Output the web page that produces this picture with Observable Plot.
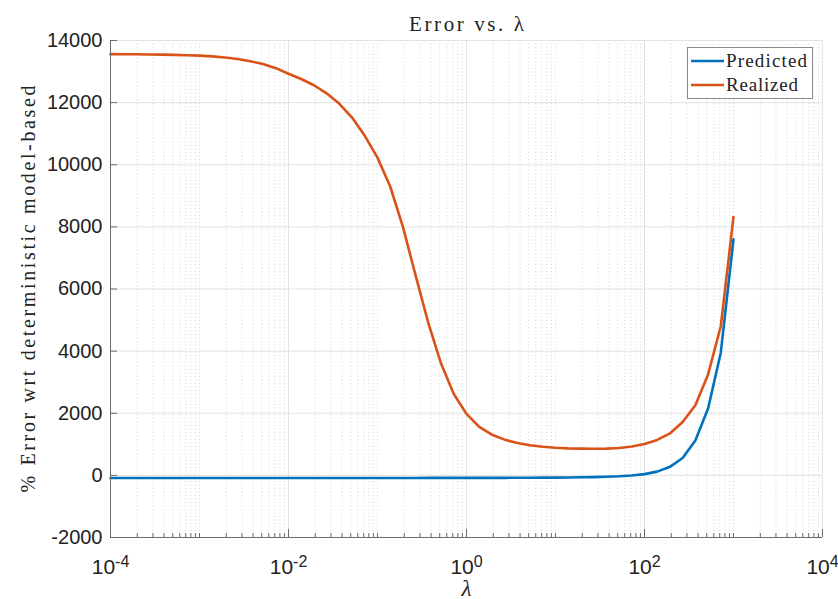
<!DOCTYPE html>
<html>
<head>
<meta charset="utf-8">
<script src="https://cdn.jsdelivr.net/npm/d3@7"></script>
<script src="https://cdn.jsdelivr.net/npm/@observablehq/plot@0.6"></script>
<style>
  html, body { margin: 0; padding: 0; background: #fff; }
  #wrap { position: relative; width: 838px; height: 599px; overflow: hidden; }
  #legend { position: absolute; left: 687px; top: 47px; }
</style>
</head>
<body>
<div id="wrap"></div>
<script>
// ---- data ----
const lambda = [
  1.000e-4, 1.389e-4, 1.931e-4, 2.683e-4, 3.728e-4, 5.179e-4, 7.197e-4,
  1.000e-3, 1.389e-3, 1.931e-3, 2.683e-3, 3.728e-3, 5.179e-3, 7.197e-3,
  1.000e-2, 1.389e-2, 1.931e-2, 2.683e-2, 3.728e-2, 5.179e-2, 7.197e-2,
  1.000e-1, 1.389e-1, 1.931e-1, 2.683e-1, 3.728e-1, 5.179e-1, 7.197e-1,
  1.000, 1.389, 1.931, 2.683, 3.728, 5.179, 7.197,
  10.00, 13.89, 19.31, 26.83, 37.28, 51.79, 71.97,
  100.0, 138.9, 193.1, 268.3, 372.8, 517.9, 719.7,
  1000.0
];
const realized = [
  13560, 13558, 13555, 13550, 13545, 13537, 13527,
  13512, 13490, 13455, 13405, 13335, 13240, 13110,
  12930, 12760, 12560, 12300, 11960, 11520, 10930,
  10230, 9300, 8000, 6430, 4900, 3600, 2620,
  1980, 1560, 1310, 1150, 1040, 970, 920,
  890, 870, 860, 855, 860, 880, 930,
  1010, 1140, 1350, 1720, 2260, 3250, 4800,
  8320
];
const predicted = [
  -85, -85, -85, -85, -85, -85, -85,
  -85, -85, -85, -85, -85, -85, -85,
  -85, -85, -85, -85, -85, -85, -85,
  -84, -84, -83, -83, -82, -82, -81,
  -81, -80, -80, -79, -78, -76, -74,
  -72, -68, -62, -55, -45, -30, -5,
  40, 120, 275, 560, 1120, 2150, 3950,
  7600
];
const seriesNames = ["Predicted", "Realized"];
const seriesColors = ["#0072BD", "#D95319"];
const xMajorTicks = [1e-4, 1e-2, 1e0, 1e2, 1e4];
const xTickLabels = ["10^-4", "10^-2", "10^0", "10^2", "10^4"];
const yTicks = [-2000, 0, 2000, 4000, 6000, 8000, 10000, 12000, 14000];
const yTickLabels = ["-2000", "0", "2000", "4000", "6000", "8000", "10000", "12000", "14000"];
const titleText = "Error vs. λ";
const xLabelText = "λ";
const yLabelText = "% Error wrt deterministic model-based";

// minor log ticks (2..9 in each decade, plus the odd decades)
const xMinor = [];
for (let e = -4; e < 4; e++) {
  for (let m = 1; m <= 9; m++) {
    if (m === 1 && e % 2 === 0) continue;
    xMinor.push(m * Math.pow(10, e));
  }
}

// ---- layout ----
const W = 838, H = 599, mL = 110, mR = 16, mT = 40, mB = 62;
const fw = W - mL - mR, fh = H - mT - mB;
const axisColor = "#6b6b6b";
const serif = "'Liberation Serif', 'DejaVu Serif', serif";
const sans = "'Liberation Sans', Arial, sans-serif";

const svg = Plot.plot({
  width: W, height: H,
  marginLeft: mL, marginRight: mR, marginTop: mT, marginBottom: mB,
  x: { type: "log", domain: [1e-4, 1e4], axis: null },
  y: { domain: [-2000, 14000], axis: null },
  style: { fontFamily: sans, fontSize: "20px", color: "#222", background: "#fff", overflow: "visible" },
  marks: [
    Plot.ruleX(xMinor, { x: d => d, stroke: "#d2d2d2", strokeWidth: 0.9, strokeDasharray: "1,2.5" }),
    Plot.ruleX(xMajorTicks, { x: d => d, stroke: "#e2e2e2", strokeWidth: 1 }),
    Plot.ruleY(yTicks, { y: d => d, stroke: "#e2e2e2", strokeWidth: 1 }),
    Plot.line(predicted, { x: (d, i) => lambda[i], y: d => d, stroke: seriesColors[0], strokeWidth: 2.6, strokeLinejoin: "round" }),
    Plot.line(realized, { x: (d, i) => lambda[i], y: d => d, stroke: seriesColors[1], strokeWidth: 2.6, strokeLinejoin: "round" }),
    Plot.ruleY([-2000], { y: d => d, stroke: axisColor, strokeWidth: 1 }),
    Plot.ruleX([1e-4], { x: d => d, stroke: axisColor, strokeWidth: 1 }),
    Plot.tickX(xMajorTicks, { x: d => d, insetTop: fh - 8, stroke: axisColor }),
    Plot.tickX(xMinor, { x: d => d, insetTop: fh - 4, stroke: axisColor }),
    Plot.tickY(yTicks, { y: d => d, insetRight: fw - 7, stroke: axisColor }),
    Plot.text(yTicks, { y: d => d, text: (d, i) => yTickLabels[i], frameAnchor: "left", dx: -8, textAnchor: "end", lineAnchor: "middle", fontSize: 20, fill: "#222" }),
    Plot.text(xMajorTicks, { x: d => d, text: (d, i) => xTickLabels[i], frameAnchor: "bottom", dy: 36, lineAnchor: "bottom", fontSize: 21, fill: "#222" }),
    Plot.text([titleText], { text: d => d, frameAnchor: "top", dy: -10, lineAnchor: "bottom", textAnchor: "middle", fontFamily: serif, fontSize: 21, fill: "#222" }),
    Plot.text([xLabelText], { text: d => d, frameAnchor: "bottom", dy: 58, lineAnchor: "bottom", textAnchor: "middle", fontFamily: serif, fontStyle: "italic", fontSize: 23, fill: "#222" }),
    Plot.text([yLabelText], { text: d => d, frameAnchor: "left", dx: -76, rotate: -90, lineAnchor: "bottom", textAnchor: "middle", fontFamily: serif, fontSize: 20, fill: "#222" })
  ]
});

// post-process texts: superscript exponents, widen serif texts like the LaTeX font
d3.select(svg).selectAll("text").each(function () {
  const s = this.textContent;
  const t = d3.select(this);
  if (xTickLabels.includes(s)) {
    const parts = s.split("^");
    t.text(null);
    t.append("tspan").text(parts[0]);
    t.append("tspan").attr("dy", "-6.5").attr("font-size", "16").text(parts[1]);
  } else if (s === titleText) {
    t.attr("textLength", 115).attr("lengthAdjust", "spacing");
  } else if (s === yLabelText) {
    t.attr("textLength", 407).attr("lengthAdjust", "spacing");
  }
});

const wrap = document.getElementById("wrap");
wrap.appendChild(svg);

// legend (box in the upper-right corner of the axes)
const leg = d3.select(wrap).append("svg").attr("id", "legend").attr("width", 127).attr("height", 53);
leg.append("rect").attr("x", 0.5).attr("y", 0.5).attr("width", 125).attr("height", 51)
  .attr("fill", "#fff").attr("stroke", "#8a8a8a").attr("stroke-width", 1);
seriesNames.forEach((name, i) => {
  const cy = 14 + i * 24;
  leg.append("line").attr("x1", 4).attr("x2", 37).attr("y1", cy).attr("y2", cy)
    .attr("stroke", seriesColors[i]).attr("stroke-width", 2.6);
  leg.append("text").attr("x", 39).attr("y", cy + 6).attr("font-family", serif)
    .attr("font-size", 19).attr("fill", "#222").attr("textLength", i === 0 ? 81 : 72)
    .attr("lengthAdjust", "spacing").text(name);
});
</script>
</body>
</html>
